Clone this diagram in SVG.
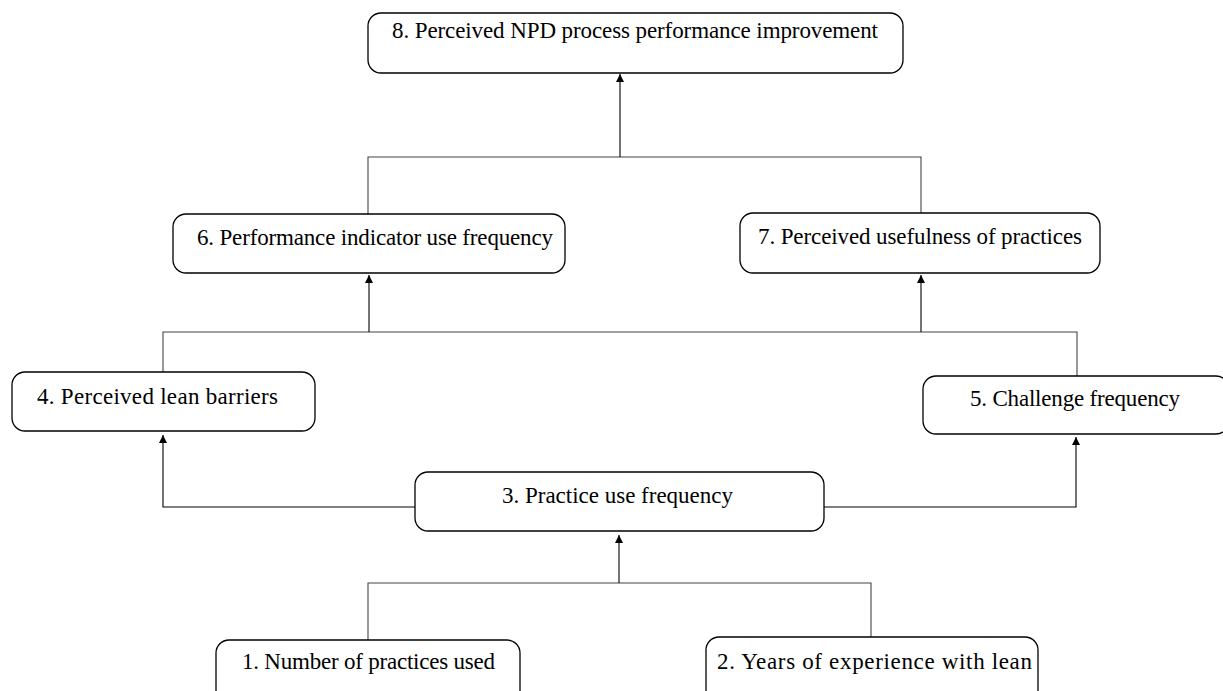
<svg xmlns="http://www.w3.org/2000/svg" width="1223" height="691" viewBox="0 0 1223 691">
<style>
.box{fill:#fff;stroke:#000;stroke-width:1.3}
.lbl{font-family:"Liberation Serif","Times New Roman",serif;font-size:23px;fill:#000}
.ln{fill:none;stroke:#444;stroke-width:1.1}
.ar{fill:none;stroke:#000;stroke-width:1.1;marker-end:url(#ah)}
</style>
<defs>
<marker id="ah" viewBox="0 0 8 10" refX="8" refY="5" markerWidth="8" markerHeight="10" markerUnits="userSpaceOnUse" orient="auto">
<path d="M0,1 L8,5 L0,9 Z" fill="#000"/>
</marker>
</defs>
<rect width="1223" height="691" fill="#fff"/>
<g id="connectors">
<polyline class="ln" points="368,214 368,157 921,157 921,213"/>
<line class="ar" x1="620" y1="157" x2="620" y2="74"/>
<polyline class="ln" points="163,372 163,332 1077,332 1077,376"/>
<line class="ar" x1="369" y1="332" x2="369" y2="275"/>
<line class="ar" x1="921" y1="332" x2="921" y2="275"/>
<polyline class="ar" points="415,507 163,507 163,435"/>
<polyline class="ar" points="824,507 1076,507 1076,437"/>
<polyline class="ln" points="368,640 368,583 871,583 871,638"/>
<line class="ar" x1="619" y1="583" x2="619" y2="535"/>
</g>
<g id="n8"><rect class="box" x="368" y="13" width="535" height="60" rx="13"/><text class="lbl" x="392" y="38" textLength="486" lengthAdjust="spacing">8. Perceived  NPD process performance improvement</text></g>
<g id="n6"><rect class="box" x="173" y="214" width="392" height="59" rx="13"/><text class="lbl" x="197" y="245" textLength="356" lengthAdjust="spacing">6. Performance indicator use frequency</text></g>
<g id="n7"><rect class="box" x="740" y="213" width="360" height="60" rx="13"/><text class="lbl" x="758" y="244" textLength="324" lengthAdjust="spacing">7. Perceived  usefulness  of practices</text></g>
<g id="n4"><rect class="box" x="12" y="372" width="303" height="59" rx="13"/><text class="lbl" x="37" y="404" textLength="241" lengthAdjust="spacing">4. Perceived  lean barriers</text></g>
<g id="n5"><rect class="box" x="923" y="376" width="306" height="58" rx="13"/><text class="lbl" x="970" y="406" textLength="210" lengthAdjust="spacing">5. Challenge  frequency</text></g>
<g id="n3"><rect class="box" x="415" y="472" width="409" height="59" rx="13"/><text class="lbl" x="502" y="503" textLength="231" lengthAdjust="spacing">3. Practice use frequency</text></g>
<g id="n1"><rect class="box" x="216" y="640" width="304" height="70" rx="13"/><text class="lbl" x="242" y="669" textLength="253" lengthAdjust="spacing">1. Number of practices  used</text></g>
<g id="n2"><rect class="box" x="706" y="637" width="332" height="70" rx="13"/><text class="lbl" x="717" y="669" textLength="315" lengthAdjust="spacing">2. Years of experience  with  lean</text></g>
</svg>
